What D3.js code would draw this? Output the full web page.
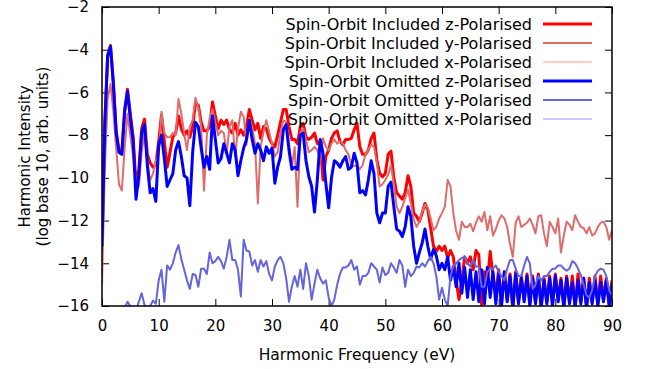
<!DOCTYPE html>
<html>
<head>
<meta charset="utf-8">
<script src="https://cdn.jsdelivr.net/npm/d3@7"></script>
<style>
  body { margin: 0; background: #fff; }
  text { font-family: "DejaVu Sans", sans-serif; fill: #000; }
</style>
</head>
<body>
<svg id="chart"></svg>
<script>
// sample spacing (eV) of the traces
const fineStep = 0.5;
const coarseStep = 1;

const includedZ = [
  -13.0,-7.4,-4.25,-3.8,-5.5,-7.8,-8.7,-8.8,-6.8,-5.85,
  -7.0,-8.1,-10.3,-9.6,-7.7,-7.25,-8.9,-9.3,-9.5,-9.4,
  -8.3,-7.05,-8.3,-9.5,-8.8,-8.1,-7.9,-7.1,-7.7,-8.0,
  -7.8,-8.1,-7.6,-6.5,-6.6,-7.4,-7.8,-7.8,-7.6,-6.45,
  -7.1,-7.7,-7.3,-7.5,-7.3,-7.75,-7.9,-7.45,-8.0,-7.75,
  -8.0,-7.6,-6.8,-7.3,-7.75,-7.45,-8.15,-7.6,-7.7,-8.15,
  -8.4,-8.55,-8.0,-7.4,-6.8,-6.8,-7.6,-8.2,-8.2,-8.4,
  -7.6,-7.45,-8.1,-8.2,-8.1,-7.9,-8.4,-8.3,-10.1,-9.0,
  -8.7,-8.15,-7.9,-7.8,-8.3,-8.45,-8.2,-8.2,-8.15,-7.75,
  -7.45,-8.55,-8.9,-8.9,-8.7,-8.15,-7.9,-9.15,-9.8,-9.95,
  -9.8,-8.9,-8.75,-10.0,-10.7,-10.85,-11.0,-10.7,-9.9,-10.4,
  -11.65,-11.8,-12.05,-11.65,-11.2,-11.5,-12.35,-13.2,-13.45,-13.2,
  -13.4,-13.2,-13.75,-13.4,-13.7,-14.8,-15.7,-14.8,-13.7,-14.0,
  -13.7,-14.3,-13.4,-13.6,-16.0,-14.4,-14.9,-13.45,-14.6,-15.5,
  -14.3,-15.9,-14.4,-15.7,-14.5,-16.1,-14.4,-15.8,-14.6,-15.7,
  -14.5,-15.9,-14.6,-15.8,-14.5,-16.0,-14.7,-15.8,-14.6,-15.9,
  -14.5,-15.7,-14.7,-16.0,-14.6,-15.8,-14.6,-16.1,-14.5,-15.8,
  -14.7,-16.0,-14.7,-15.8,-14.6,-15.9,-14.6,-15.7,-14.7,-15.9,
  -14.8
];

const includedY = [
  -15.0,-9.5,-6.3,-5.6,-6.9,-8.6,-10.3,-10.6,-8.6,-7.0,
  -8.0,-9.0,-10.2,-10.4,-8.8,-7.9,-9.3,-10.1,-9.8,-9.2,
  -8.9,-6.9,-7.9,-8.1,-8.1,-7.9,-8.0,-6.3,-7.0,-7.9,
  -8.7,-7.6,-7.3,-6.25,-6.7,-7.6,-10.6,-8.0,-7.2,-6.8,
  -7.4,-8.0,-7.8,-7.9,-8.85,-7.6,-7.3,-9.0,-7.7,-6.9,
  -7.15,-8.45,-7.2,-7.6,-8.4,-11.2,-8.55,-7.85,-7.3,-7.85,
  -8.4,-9.0,-8.8,-7.9,-7.3,-7.4,-8.4,-9.5,-8.55,-11.35,
  -7.9,-7.7,-8.2,-8.8,-8.7,-8.55,-8.7,-9.2,-8.15,-8.55,
  -8.7,-8.4,-8.2,-8.4,-8.3,-8.4,-8.7,-8.9,-9.4,-9.45,
  -9.4,-9.6,-9.4,-8.9,-8.7,-8.45,-8.55,-9.3,-10.4,-10.3,
  -10.1,-9.85,-9.4,-10.3,-11.35,-11.65,-11.35,-10.95,-10.55,-11.2,
  -11.95,-12.3,-12.05,-11.6,-11.25,-11.4,-11.9,-12.45,-12.3,-11.9,
  -11.65,-11.35,-10.1,-10.4,-11.65,-12.5,-12.9,-12.05,-12.3,-12.3,
  -12.15,-12.5,-12.1,-11.8,-12.05,-11.6,-12.45,-11.8,-12.7,-12.4,
  -12.0,-11.75,-11.9,-12.3,-13.1,-13.7,-12.1,-11.8,-12.3,-12.2,
  -12.1,-11.9,-12.2,-12.6,-11.8,-11.75,-12.6,-13.2,-12.05,-12.3,
  -12.6,-11.9,-13.5,-12.7,-12.05,-12.2,-12.45,-11.75,-12.05,-12.3,
  -12.35,-12.6,-12.3,-12.7,-12.6,-12.3,-12.1,-12.05,-12.3,-12.9,
  -12.45
];

// x-polarised responses stay below the bottom of the plotted range
const includedX = [
  -17.2,-16.8,-17.0,-17.4,-17.1,-17.3,-17.6,-17.2,-17.5,-17.8,
  -17.4,-17.6,-17.9,-17.5,-17.7,-17.6,-17.9,-17.4,-17.8,-17.7,
  -17.5,-17.8,-17.6,-17.9,-18.0,-17.7,-17.5,-17.9,-18.1,-17.8,
  -18.0,-17.9,-17.6,-17.8,-18.2,-17.9,-18.0,-18.3,-18.1,-18.4,
  -18.2,-18.0,-18.3,-18.4,-18.1,-18.0,-18.5,-18.3,-18.2,-18.6,
  -18.5,-18.3,-18.7,-18.8,-18.6,-18.9,-19.0,-18.8,-19.1,-19.3,
  -19.2,-19.4,-19.3,-19.6,-19.4,-19.5,-19.4,-19.7,-19.6,-19.5,
  -19.6,-19.7,-19.8,-19.6,-19.8,-19.7,-19.9,-19.8,-19.9,-19.8,
  -19.7,-19.9,-19.8,-20.0,-19.9,-19.8,-20.0,-19.9,-20.0,-19.9,
  -20.1
];

const omittedZ = [
  -13.2,-7.5,-4.3,-3.85,-5.6,-7.9,-8.8,-8.9,-6.9,-5.95,
  -7.2,-8.3,-11.0,-9.9,-7.9,-7.5,-9.4,-10.7,-10.5,-11.1,
  -8.5,-8.0,-9.1,-10.4,-10.1,-9.8,-8.7,-8.3,-9.0,-9.9,
  -10.0,-11.3,-8.8,-7.4,-7.6,-8.6,-9.5,-9.0,-9.6,-7.1,
  -8.2,-9.3,-9.1,-8.4,-8.85,-9.3,-8.4,-8.7,-9.9,-9.2,
  -8.6,-8.2,-7.3,-8.2,-8.85,-8.4,-8.7,-9.2,-8.55,-8.85,
  -8.6,-10.25,-9.5,-9.0,-7.75,-7.5,-8.7,-9.6,-9.5,-9.6,
  -8.0,-7.9,-9.2,-9.95,-10.4,-11.6,-10.1,-8.2,-8.85,-10.25,
  -11.4,-10.0,-9.2,-9.3,-9.5,-9.2,-9.0,-9.6,-9.5,-8.85,
  -9.3,-10.7,-10.6,-10.8,-10.1,-9.2,-9.8,-11.65,-12.1,-11.65,
  -11.65,-10.4,-10.2,-11.35,-12.4,-12.5,-12.75,-12.3,-11.35,-11.8,
  -13.2,-14.0,-13.5,-13.05,-12.4,-13.2,-13.8,-13.35,-13.65,-14.3,
  -14.0,-14.3,-13.7,-14.8,-14.15,-15.1,-14.0,-15.4,-14.2,-15.6,
  -14.3,-15.7,-14.4,-15.8,-14.3,-15.9,-14.2,-15.6,-14.4,-15.9,
  -14.5,-16.0,-14.4,-15.8,-14.6,-16.1,-14.5,-15.9,-14.7,-15.8,
  -14.6,-16.0,-14.7,-15.9,-14.6,-16.1,-14.8,-15.9,-14.7,-16.0,
  -14.6,-15.8,-14.8,-16.1,-14.7,-15.9,-14.9,-16.0,-14.8,-15.9,
  -14.7,-16.1,-14.9,-15.9,-14.8,-16.0,-14.9,-15.8,-14.8,-16.0,
  -15.0
];

const omittedY = [
  -17.0,-16.8,-16.6,-16.7,-16.9,-16.6,-16.4,-16.3,-16.1,-15.8,
  -16.0,-16.4,-16.2,-15.8,-15.4,-15.95,-16.1,-16.0,-15.75,-15.9,
  -14.8,-14.3,-15.8,-14.1,-14.3,-14.0,-13.5,-13.15,-13.8,-14.3,
  -14.8,-15.2,-14.5,-14.55,-15.1,-14.25,-14.25,-14.5,-13.5,-14.0,
  -13.9,-13.7,-13.9,-14.25,-13.7,-12.9,-13.85,-13.85,-14.3,-15.55,
  -12.9,-13.4,-13.45,-14.1,-13.85,-14.4,-13.85,-14.15,-13.9,-14.5,
  -14.8,-14.15,-13.85,-13.7,-14.0,-14.7,-15.8,-15.1,-14.6,-15.1,
  -14.3,-15.2,-14.0,-14.6,-15.7,-14.95,-14.3,-14.7,-14.95,-14.8,
  -15.6,-16.0,-15.7,-15.0,-14.5,-14.2,-14.2,-14.1,-13.85,-14.3,
  -14.15,-15.0,-14.6,-14.6,-14.45,-14.0,-14.15,-14.3,-14.9,-14.2,
  -14.55,-14.45,-14.0,-14.2,-14.45,-13.85,-14.1,-15.1,-14.3,-14.6,
  -14.45,-14.15,-14.2,-14.0,-14.15,-13.9,-13.7,-14.0,-14.6,-15.7,
  -15.15,-15.7,-16.0,-14.6,-14.15,-14.0,-13.85,-13.75,-13.7,-14.0,
  -14.15,-13.85,-14.15,-14.15,-15.1,-15.1,-14.4,-14.25,-14.25,-14.1,
  -14.4,-14.6,-14.8,-14.25,-13.85,-13.85,-14.25,-14.6,-14.6,-14.1,
  -13.7,-14.0,-15.2,-15.0,-14.6,-14.8,-14.6,-14.6,-14.4,-14.25,
  -14.25,-14.1,-14.1,-14.25,-14.35,-14.25,-13.9,-14.0,-14.25,-14.55,
  -15.0,-15.5,-15.6,-15.25,-14.6,-14.35,-14.25,-14.3,-14.6,-15.25,
  -15.5
];

const omittedX = [
  -18.2,-17.9,-18.1,-18.4,-18.2,-18.5,-18.7,-18.3,-18.6,-18.9,
  -18.5,-18.8,-19.0,-18.6,-18.9,-18.7,-19.0,-18.6,-18.9,-18.8,
  -18.7,-19.0,-18.8,-19.1,-19.2,-18.9,-18.7,-19.1,-19.2,-19.0,
  -19.1,-19.0,-18.8,-19.0,-19.3,-19.1,-19.2,-19.4,-19.2,-19.5,
  -19.3,-19.2,-19.4,-19.5,-19.3,-19.2,-19.6,-19.4,-19.3,-19.7,
  -19.6,-19.4,-19.8,-19.9,-19.7,-20.0,-20.1,-19.9,-20.2,-20.3,
  -20.2,-20.4,-20.3,-20.5,-20.4,-20.5,-20.4,-20.6,-20.5,-20.5,
  -20.6,-20.7,-20.8,-20.6,-20.8,-20.7,-20.9,-20.8,-20.9,-20.8,
  -20.7,-20.9,-20.8,-21.0,-20.9,-20.8,-21.0,-20.9,-21.0,-20.9,
  -21.1
];

const xTicks = [0, 10, 20, 30, 40, 50, 60, 70, 80, 90];
const yTicks = [-16, -14, -12, -10, -8, -6, -4, -2];

const seriesLabels = [
  'Spin-Orbit Included z-Polarised',
  'Spin-Orbit Included y-Polarised',
  'Spin-Orbit Included x-Polarised',
  'Spin-Orbit Omitted z-Polarised',
  'Spin-Orbit Omitted y-Polarised',
  'Spin-Orbit Omitted x-Polarised'
];
const seriesValues = [includedZ, includedY, includedX, omittedZ, omittedY, omittedX];
const seriesSteps = [fineStep, fineStep, coarseStep, fineStep, fineStep, coarseStep];
const seriesColors = ['#ff0000', '#de6c6c', '#ffcaca', '#0000ff', '#6464dc', '#cacaff'];
const seriesWidths = [3, 2, 2, 3, 2, 2];

const W = 652, H = 369;
const margin = {top: 7, right: 40, bottom: 63, left: 102};
const width = W - margin.left - margin.right;
const height = H - margin.top - margin.bottom;

const svg = d3.select('#chart').attr('width', W).attr('height', H);
const g = svg.append('g').attr('transform', `translate(${margin.left},${margin.top})`);

const x = d3.scaleLinear().domain([0, 90]).range([0, width]);
const y = d3.scaleLinear().domain([-16, -2]).range([height, 0]);

g.append('clipPath').attr('id', 'plot-clip')
  .append('rect').attr('width', width).attr('height', height);

// ticks point inwards on all four sides, labels only left and bottom
function styleAxis(sel) {
  sel.select('.domain').remove();
  sel.selectAll('.tick line').attr('stroke', '#000').attr('stroke-width', 1);
  sel.selectAll('.tick text').style('font-size', '15px');
}

g.append('g')
  .attr('transform', `translate(0,${height})`)
  .call(d3.axisBottom(x).tickValues(xTicks).tickSizeInner(-7).tickSizeOuter(0).tickPadding(14))
  .call(styleAxis);

g.append('g')
  .call(d3.axisTop(x).tickValues(xTicks).tickSizeInner(-7).tickSizeOuter(0).tickFormat(''))
  .call(styleAxis);

g.append('g')
  .call(d3.axisLeft(y).tickValues(yTicks).tickSizeInner(-7).tickSizeOuter(0).tickPadding(13))
  .call(styleAxis);

g.append('g')
  .attr('transform', `translate(${width},0)`)
  .call(d3.axisRight(y).tickValues(yTicks).tickSizeInner(-7).tickSizeOuter(0).tickFormat(''))
  .call(styleAxis);

const traces = g.append('g').attr('clip-path', 'url(#plot-clip)');

seriesValues.forEach((values, k) => {
  const line = d3.line()
    .x((d, i) => x(i * seriesSteps[k]))
    .y(d => y(d));
  traces.append('path')
    .datum(values)
    .attr('fill', 'none')
    .attr('stroke', seriesColors[k])
    .attr('stroke-width', seriesWidths[k])
    .attr('stroke-linejoin', 'round')
    .attr('d', line);
});

g.append('rect')
  .attr('width', width)
  .attr('height', height)
  .attr('fill', 'none')
  .attr('stroke', '#000')
  .attr('stroke-width', 1.5);

// key
const legend = svg.append('g');
seriesLabels.forEach((label, k) => {
  const ly = 24 + k * 19;
  legend.append('text')
    .attr('x', 532)
    .attr('y', ly)
    .attr('dy', '0.35em')
    .attr('text-anchor', 'end')
    .style('font-size', '16px')
    .text(label);
  legend.append('line')
    .attr('x1', 543).attr('x2', 592)
    .attr('y1', ly).attr('y2', ly)
    .attr('stroke', seriesColors[k])
    .attr('stroke-width', seriesWidths[k]);
});

svg.append('text')
  .attr('x', margin.left + width / 2)
  .attr('y', 360)
  .attr('text-anchor', 'middle')
  .style('font-size', '15.5px')
  .text('Harmonic Frequency (eV)');

const yTitle = svg.append('text')
  .attr('transform', `translate(0,${margin.top + height / 2}) rotate(-90)`)
  .attr('text-anchor', 'middle')
  .style('font-size', '15px');
yTitle.append('tspan').attr('x', 0).attr('y', 30).text('Harmonic Intensity');
yTitle.append('tspan').attr('x', 0).attr('y', 48).text('(log base 10, arb. units)');
</script>
</body>
</html>
